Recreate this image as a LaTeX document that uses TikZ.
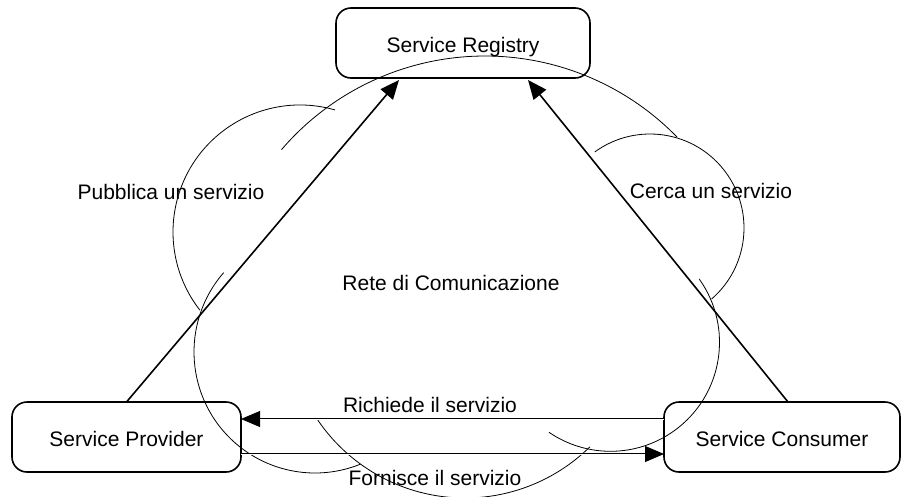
\documentclass[tikz,border=0pt]{standalone}
\usepackage{fontspec}
\setmainfont{Liberation Sans}
\usetikzlibrary{arrows.meta}
\begin{document}
\begin{tikzpicture}[x=1pt,y=-1pt,
  box/.style={draw, line width=1.6pt, rounded corners=15pt, minimum height=70pt,
    inner sep=0pt, outer sep=0pt, text height=19pt, text depth=0pt,
    font=\fontsize{21}{25}\selectfont},
  lbl/.style={font=\fontsize{21}{25}\selectfont, inner sep=0pt, anchor=base},
  cloudarc/.style={line width=0.8pt},
  link/.style={line width=1.6pt, -{Triangle[length=19pt,width=16pt]}},
  msg/.style={double, double distance=1pt, line width=0.8pt,
    -{Triangle[length=19pt,width=16pt]}}]
\useasboundingbox (0,0) rectangle (902,496);

% the three parties
\node[box, minimum width=254pt] (reg)  at (463,43)   {Service Registry};
\node[box, minimum width=229pt] (prov) at (126.5,437) {Service Provider};
\node[box, minimum width=236pt] (cons) at (782,437)  {Service Consumer};

% communication network drawn as a cloud of circular arcs
\begin{scope}
\clip (0,0) rectangle (902,496);
% top
\draw[cloudarc] (485,324) ++(-139.4:268) arc[start angle=-139.4, end angle=-44.2, radius=268];
% left bump
\draw[cloudarc] (300,232) ++(-74:127) arc[start angle=-74, end angle=-218, radius=127];
% right bump
\draw[cloudarc] (650,228) ++(-126:94) arc[start angle=-126, end angle=49, radius=94];
% lower left
\draw[cloudarc] (315,352) ++(221:121) arc[start angle=221, end angle=68, radius=121];
% bottom
\draw[cloudarc] (465,320) ++(146:178) arc[start angle=146, end angle=45.5, radius=178];
% lower right
\draw[cloudarc] (610.5,342.3) ++(-35.6:109) arc[start angle=-35.6, end angle=124.4, radius=109];
\end{scope}

\node[lbl] (net) at (451,290) {Rete di Comunicazione};

% publish / find
\coordinate (regL) at (399,80);
\coordinate (regR) at (528,80);
\draw[link] (prov.north) -- (regL);
\draw[link] ([xshift=6pt]cons.north) -- (regR);
\node[lbl] (pub) at (171,199) {Pubblica un servizio};
\node[lbl] (find) at (711,198) {Cerca un servizio};

% request / deliver
\draw[msg] ([yshift=18pt]cons.west) -- ([yshift=18pt]prov.east);
\draw[msg] ([yshift=-17pt]prov.east) -- ([yshift=-17pt]cons.west);
\node[lbl] (req) at (430,412) {Richiede il servizio};
\node[lbl] (del) at (435,485) {Fornisce il servizio};
\end{tikzpicture}
\end{document}
